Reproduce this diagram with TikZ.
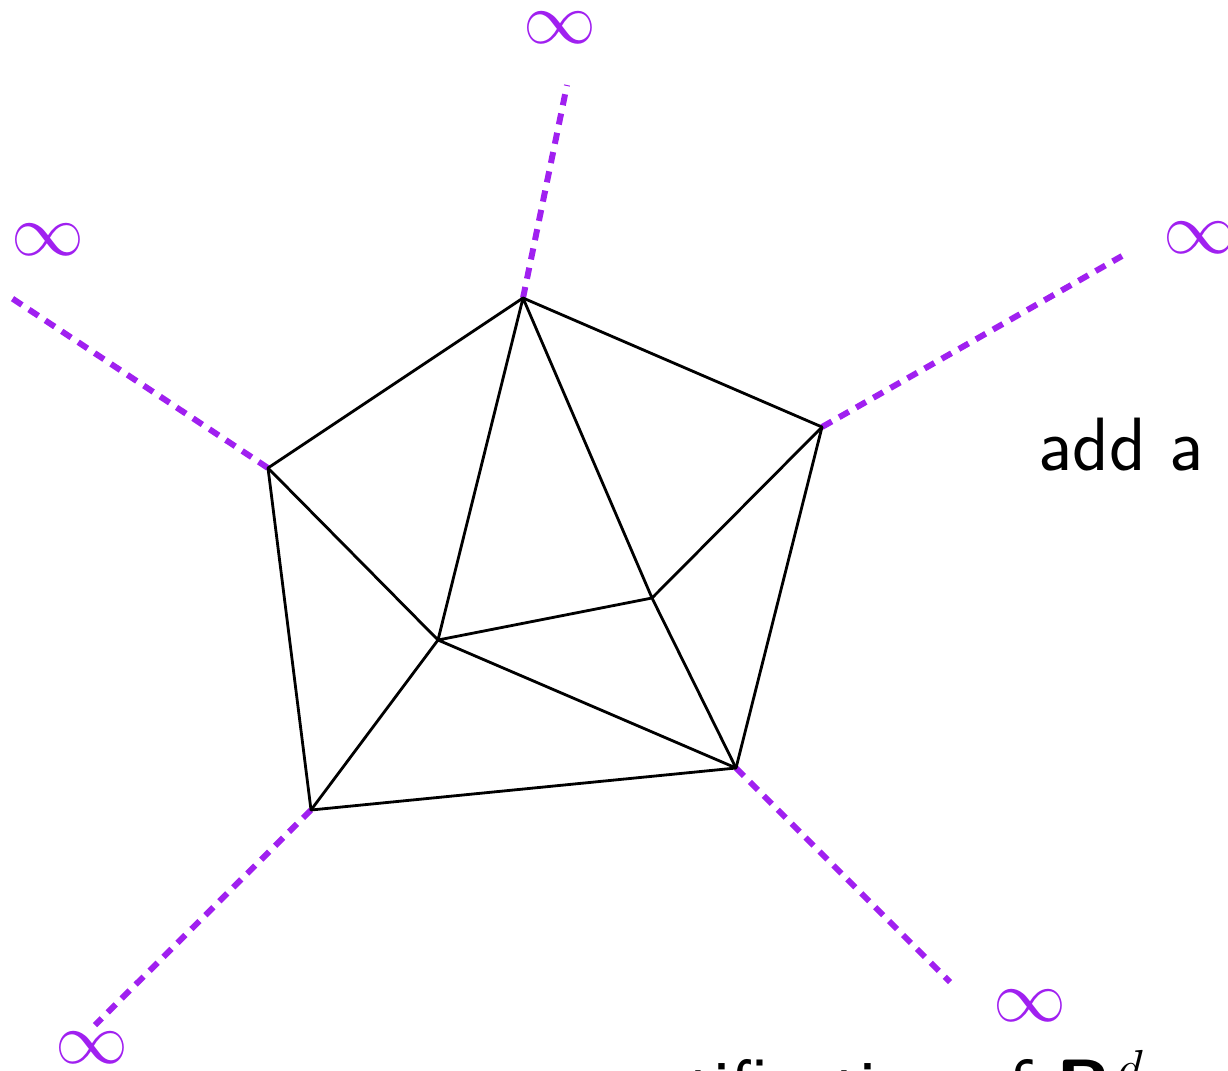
\documentclass[tikz,border=0pt]{standalone}
\usepackage{xcolor}
\usepackage{amsmath,amssymb}
\usepackage{tikz}
\usetikzlibrary{calc}
\definecolor{infpurple}{HTML}{A020F0}
\tikzset{
  edge/.style={draw=black,line width=0.8pt,line join=round},
  ray/.style={draw=infpurple,line width=1.7pt,dash pattern=on 3.2pt off 2.4pt},
  inflbl/.style={text=infpurple,inner sep=0pt,font=\fontsize{21}{24}\selectfont},
  txt/.style={inner sep=0pt,font=\fontsize{21.5}{25}\selectfont\sffamily},
}

\begin{document}
\begin{tikzpicture}[x=1cm,y=1cm]
  \useasboundingbox (0,0) rectangle (12.28,10.70);
  \clip (0,0) rectangle (12.28,10.70);
  % vertices of the triangulation
  \coordinate (top)   at (5.23,7.72);
  \coordinate (right) at (8.22,6.43);
  \coordinate (left)  at (2.68,6.02);
  \coordinate (inr)   at (6.52,4.72);
  \coordinate (inc)   at (4.38,4.30);
  \coordinate (botr)  at (7.36,3.02);
  \coordinate (botl)  at (3.11,2.60);
  % ends of the rays
  \coordinate (topend)   at (5.67,9.85);
  \coordinate (rightend) at (11.22,8.14);
  \coordinate (leftend)  at (0.10,7.73);
  \coordinate (botlend)  at (0.95,0.45);
  \coordinate (botrend)  at (9.50,0.88);
  % rays to infinity
  \draw[ray] (top)--(topend);
  \draw[ray] (right)--(rightend);
  \draw[ray] (left)--(leftend);
  \draw[ray] (botl)--(botlend);
  \draw[ray] (botr)--(botrend);
  % edges
  \draw[edge] (top)--(right)--(botr)--(botl)--(left)--cycle;
  \draw[edge] (top)--(inc) (top)--(inr) (right)--(inr) (left)--(inc);
  \draw[edge] (inc)--(inr)--(botr) (inc)--(botl) (inc)--(botr);
  % points at infinity
  \node[inflbl] (inftop)   at (5.60,10.42) {$\infty$};
  \node[inflbl] (infright) at (12.00,8.32) {$\infty$};
  \node[inflbl] (infleft)  at (0.48,8.30)  {$\infty$};
  \node[inflbl] (infbotl)  at (0.92,0.22)  {$\infty$};
  \node[inflbl] (infbotr)  at (10.30,0.64) {$\infty$};
  % text
  \node[txt,anchor=base west] (add) at (10.38,6.00) {add a};
  \node[txt,anchor=base east] (compact) at (11.46,-0.42) {compactification of \textbf{R}$^{\,d}$};
\end{tikzpicture}
\end{document}
